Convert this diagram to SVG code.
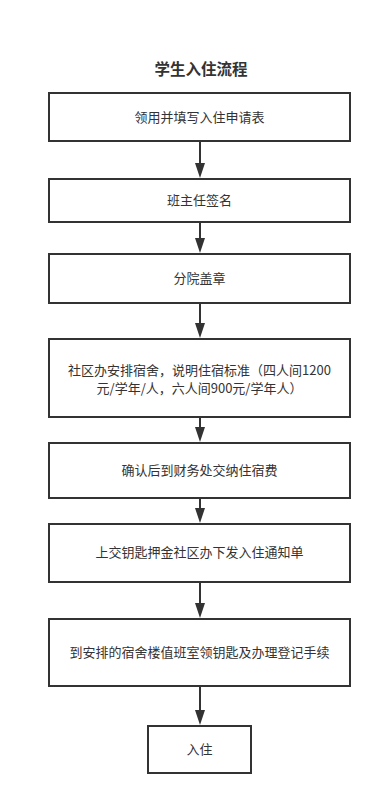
<svg xmlns="http://www.w3.org/2000/svg" width="383" height="805" viewBox="0 0 383 805">
<defs>
<style>
.box{fill:#ffffff;stroke:#333333;stroke-width:2}
.t{font-family:"Noto Sans CJK SC","Microsoft YaHei",sans-serif;font-size:13px;fill:#333333;text-anchor:middle}
.title{font-family:"Noto Sans CJK SC",sans-serif;font-size:15.5px;font-weight:bold;fill:#333333;text-anchor:middle}
.c{stroke:#333333;stroke-width:2;fill:none;marker-end:url(#ah)}
</style>
<marker id="ah" markerUnits="userSpaceOnUse" viewBox="0 0 15 10" markerWidth="15" markerHeight="10" refX="1" refY="5" orient="auto">
<path d="M0,0 L15,5 L0,10 z" fill="#333333"/>
</marker>
</defs>
<rect width="383" height="805" fill="#ffffff"/>
<text class="title" x="201" y="75">学生入住流程</text>
<g id="connectors">
<path class="c" d="M200,142 V164"/>
<path class="c" d="M200,223 V239"/>
<path class="c" d="M200,304 V324"/>
<path class="c" d="M200,418 V428"/>
<path class="c" d="M200,499 V509"/>
<path class="c" d="M200,583 V604"/>
<path class="c" d="M200,687 V711"/>
</g>
<g id="n1"><rect class="box" x="49" y="93" width="301" height="48"/><text class="t" x="199.5" y="121.5">领用并填写入住申请表</text></g>
<g id="n2"><rect class="box" x="49" y="179" width="301" height="43"/><text class="t" x="199.5" y="205">班主任签名</text></g>
<g id="n3"><rect class="box" x="49" y="254" width="301" height="49"/><text class="t" x="199.5" y="283">分院盖章</text></g>
<g id="n4"><rect class="box" x="49" y="339" width="301" height="78"/><text class="t" x="199.5" y="375">社区办安排宿舍，说明住宿标准（四人间1200</text><text class="t" x="199.5" y="393">元/学年/人，六人间900元/学年人）</text></g>
<g id="n5"><rect class="box" x="49" y="443" width="301" height="55"/><text class="t" x="199.5" y="475">确认后到财务处交纳住宿费</text></g>
<g id="n6"><rect class="box" x="49" y="524" width="301" height="58"/><text class="t" x="199.5" y="557">上交钥匙押金社区办下发入住通知单</text></g>
<g id="n7"><rect class="box" x="49" y="619" width="301" height="67"/><text class="t" x="199.5" y="657">到安排的宿舍楼值班室领钥匙及办理登记手续</text></g>
<g id="n8"><rect class="box" x="148" y="726" width="103" height="47"/><text class="t" x="199.5" y="754">入住</text></g>
</svg>
